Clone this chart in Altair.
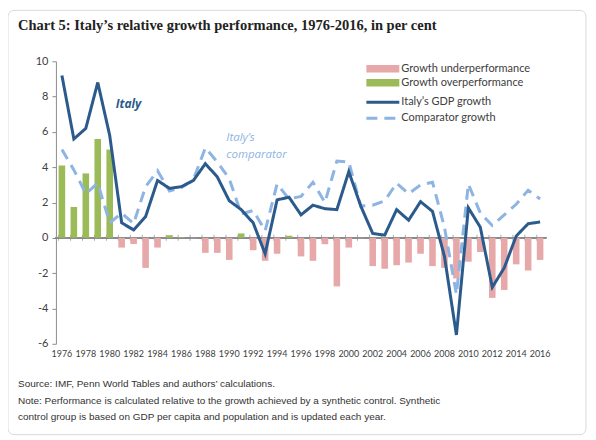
import altair as alt
import pandas as pd

years = list(range(1976, 2017))

italy_growth = [9.2, 5.6, 6.2, 8.8, 5.8,
                0.85, 0.45, 1.2, 3.25, 2.8, 2.9, 3.25, 4.2, 3.45, 2.1,
                1.6, 0.85, -0.9, 2.15, 2.3, 1.3, 1.85, 1.65, 1.6, 3.75,
                1.8, 0.25, 0.15, 1.6, 1.0, 2.05, 1.5, -1.05, -5.5, 1.7,
                0.6, -2.8, -1.7, 0.1, 0.8, 0.9]

comparator_growth = [5.0, 3.85, 2.5, 3.1, 0.85,
                     1.4, 0.8, 2.9, 3.8, 2.65, 2.85, 3.3, 5.1, 4.3, 3.35,
                     1.35, 1.55, 0.4, 3.05, 2.2, 2.35, 3.15, 2.0, 4.35, 4.3,
                     1.8, 1.85, 2.1, 3.1, 2.5, 3.0, 3.15, 0.6, -3.2, 3.05,
                     1.4, 0.7, 1.3, 1.9, 2.7, 2.2]

performance_gap = [4.1, 1.75, 3.65, 5.6, 5.0,
                   -0.55, -0.35, -1.7, -0.55, 0.15, 0.05, -0.02, -0.85, -0.85, -1.25,
                   0.25, -0.7, -1.3, -0.9, 0.12, -1.05, -1.3, -0.36, -2.75, -0.55,
                   -0.02, -1.6, -1.75, -1.55, -1.4, -0.9, -1.6, -1.7, -2.3, -1.35,
                   -0.8, -3.4, -2.95, -1.5, -1.85, -1.25]

perf_names = ["Growth underperformance", "Growth overperformance"]
perf_colors = ["#E6A8A8", "#9BBB59"]
series_names = ["Italy\u2019s GDP growth", "Comparator growth"]
series_colors = ["#2B5A8C", "#8DB4E2"]
series_dash = [[1, 0], [11, 7]]

title_text = "Chart 5: Italy\u2019s relative growth performance, 1976-2016, in per cent"
footer_lines = [
    "Source: IMF, Penn World Tables and authors\u2019 calculations.",
    "Note: Performance is calculated relative to the growth achieved by a synthetic control. Synthetic",
    "control group is based on GDP per capita and population and is updated each year.",
]
footer_y = [323, 340, 356]

annot_years = [1981, 1990, 1990]
annot_values = [7.6, 5.65, 4.72]
annot_texts = ["Italy", "Italy\u2019s", "comparator"]
annot_kind = ["italy", "comp", "comp"]

W, H = 491, 283
FONT = "Lato"
GREY = "#404040"
AXIS_GREY = "#8C8C8C"

bars_df = pd.DataFrame({"year": years, "gap": performance_gap})
bars_df["perf"] = [perf_names[1] if g >= 0 else perf_names[0] for g in performance_gap]
bars_df["zero"] = 0

lines_df = pd.concat([
    pd.DataFrame({"year": years, "value": italy_growth, "series": series_names[0]}),
    pd.DataFrame({"year": years, "value": comparator_growth, "series": series_names[1]}),
], ignore_index=True)

xscale = alt.Scale(paddingInner=0.45, paddingOuter=0.225)
yscale = alt.Scale(domain=[-6, 10], nice=False)

x_axis = alt.Axis(orient="bottom", title=None, domain=False, ticks=False, labelAngle=0,
                  grid=False,
                  labelExpr="toNumber(datum.value) % 2 == 0 ? datum.label : ''",
                  labelFont=FONT, labelFontSize=9, labelColor=GREY, labelPadding=6)
y_axis = alt.Axis(title=None, values=list(range(-6, 11, 2)), grid=False,
                  labelExpr="replace(datum.label, '\u2212', '-')",
                  domainColor=AXIS_GREY, tickColor=AXIS_GREY, tickSize=4,
                  labelFont=FONT, labelFontSize=11, labelColor=GREY, labelPadding=4)


def X(**kw):
    return alt.X("year:O", scale=xscale, axis=x_axis, **kw)


def Y(field):
    return alt.Y(field, scale=yscale, axis=y_axis)


bars = alt.Chart(bars_df).mark_bar().encode(
    x=X(),
    y=Y("gap:Q"),
    color=alt.Color("perf:N", scale=alt.Scale(domain=perf_names, range=perf_colors),
                    legend=alt.Legend(orient="none", legendX=319, legendY=-1, title=None,
                                      symbolType="M-2,-0.45H2V0.45H-2Z", symbolSize=272,
                                      symbolStrokeWidth=0, labelOffset=10, rowPadding=0,
                                      padding=0, labelFont=FONT, labelFontSize=11,
                                      labelColor=GREY)),
)

zero_line = alt.Chart(bars_df).mark_rule(color=AXIS_GREY, strokeWidth=1).encode(
    y=Y("zero:Q"),
)

zero_ticks = alt.Chart(bars_df).mark_tick(
    orient="vertical", color=AXIS_GREY, size=6, thickness=1
).encode(x=X(bandPosition=0), y=Y("zero:Q"))

line_legend = alt.Legend(orient="none", legendX=317.5, legendY=31, title=None,
                         symbolType="M-2,0H2", symbolSize=272, symbolStrokeWidth=3,
                         labelOffset=8.5, rowPadding=0, padding=0, labelFont=FONT,
                         labelFontSize=11, labelColor=GREY)


def line_layer(name):
    return alt.Chart(lines_df).transform_filter(
        alt.datum.series == name
    ).mark_line(strokeWidth=3).encode(
        x=X(),
        y=Y("value:Q"),
        stroke=alt.Stroke("series:N", scale=alt.Scale(domain=series_names, range=series_colors),
                          legend=line_legend),
        strokeDash=alt.StrokeDash("series:N", scale=alt.Scale(domain=series_names, range=series_dash),
                                  legend=line_legend),
    )


comp_line = line_layer(series_names[1])
italy_line = line_layer(series_names[0])

annot_df = pd.DataFrame({"year": annot_years, "value": annot_values, "text": annot_texts,
                         "kind": annot_kind})
annot_italy = alt.Chart(annot_df).transform_filter(alt.datum.kind == "italy").mark_text(
    align="left", baseline="middle", dx=-6, font="Open Sans", fontSize=12,
    fontStyle="italic", fontWeight="bold", color=series_colors[0]
).encode(x=X(), y=Y("value:Q"), text="text:N")

annot_comp = alt.Chart(annot_df).transform_filter(alt.datum.kind == "comp").mark_text(
    align="left", baseline="middle", dx=-3, font="Open Sans", fontSize=11.5,
    fontStyle="italic", color=series_colors[1]
).encode(x=X(), y=Y("value:Q"), text="text:N")

border = alt.Chart(pd.DataFrame({"a": [0]})).mark_rect(
    fillOpacity=0, stroke="#DADADA", strokeWidth=1, cornerRadius=6
).encode(x=alt.value(-48), x2=alt.value(531), y=alt.value(-51), y2=alt.value(374))

title = alt.Chart(pd.DataFrame({"t": [title_text]})).mark_text(
    align="left", baseline="alphabetic", font="Liberation Serif", fontSize=14.5,
    fontWeight="bold", color="#222222"
).encode(x=alt.value(-38), y=alt.value(-31), text="t:N")

footers = []
for line, yy in zip(footer_lines, footer_y):
    footers.append(alt.Chart(pd.DataFrame({"t": [line]})).mark_text(
        align="left", baseline="middle", font="Liberation Sans", fontSize=10, color="#333333"
    ).encode(x=alt.value(-38), y=alt.value(yy), text="t:N"))

chart = alt.layer(
    border, zero_line, zero_ticks, bars, comp_line, italy_line, annot_italy, annot_comp,
    title, *footers
).properties(
    width=W, height=H, autosize="none",
    padding={"left": 48, "top": 53, "right": 42, "bottom": 93},
    background="white"
).configure_view(stroke=None)

chart.save("out.html", embed_options={"renderer": "svg", "actions": False})
